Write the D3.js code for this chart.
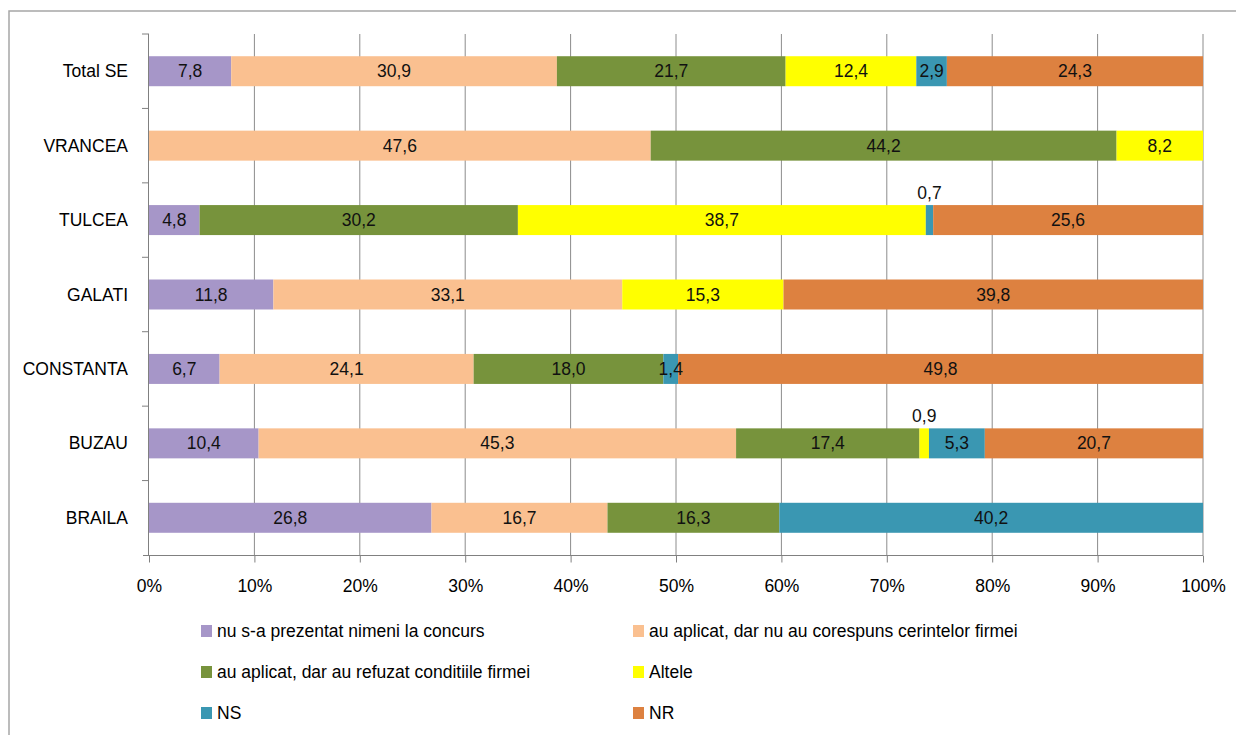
<!DOCTYPE html>
<html><head><meta charset="utf-8">
<script src="https://cdn.jsdelivr.net/npm/d3@7"></script>
<style>
body{margin:0;background:#fff;}
svg{display:block;font-family:"Liberation Sans",Arial,sans-serif;}
</style></head><body>
<svg id="c" width="1236" height="735"></svg>
<script>
const categories = ["Total SE","VRANCEA","TULCEA","GALATI","CONSTANTA","BUZAU","BRAILA"];
const seriesNames = ["nu s-a prezentat nimeni la concurs","au aplicat, dar nu au corespuns cerintelor firmei","au aplicat, dar au refuzat conditiile firmei","Altele","NS","NR"];
const seriesColors = ["#A696C8","#FAC090","#77933C","#FFFF00","#3A97B2","#DD8140"];
const nuPrezentat = [7.8, 0, 4.8, 11.8, 6.7, 10.4, 26.8];
const nuCorespuns = [30.9, 47.6, 0, 33.1, 24.1, 45.3, 16.7];
const refuzat     = [21.7, 44.2, 30.2, 0, 18.0, 17.4, 16.3];
const altele      = [12.4, 8.2, 38.7, 15.3, 0, 0.9, 0];
const ns          = [2.9, 0, 0.7, 0, 1.4, 5.3, 40.2];
const nr          = [24.3, 0, 25.6, 39.8, 49.8, 20.7, 0];
const xTicks = [0,10,20,30,40,50,60,70,80,90,100];
// labels shown above the bar for thin segments
const aboveLabels = [{cat:"TULCEA", series:4},{cat:"BUZAU", series:3}];

const FS = 17.5;
const seriesValues = [nuPrezentat, nuCorespuns, refuzat, altele, ns, nr];
const rows = categories.map((c,i)=>{const o={cat:c}; seriesValues.forEach((s,k)=>o["s"+k]=s[i]); return o;});
const keys = seriesValues.map((_,k)=>"s"+k);
const stack = d3.stack().keys(keys)(rows);

const svg = d3.select("#c");
// outer frame
svg.append("rect").attr("x",9).attr("y",11).attr("width",1240).attr("height",740)
  .attr("fill","none").attr("stroke","#a6a6a6").attr("stroke-width",1.5);

const x = d3.scaleLinear().domain([0,100]).range([149,1203]);
const y = d3.scaleBand().domain(categories).range([34,555]).paddingInner(0.597).paddingOuter(0.2985);

// gridlines
svg.append("g").selectAll("line").data(xTicks.slice(1)).join("line")
  .attr("x1",d=>x(d)).attr("x2",d=>x(d)).attr("y1",34).attr("y2",555)
  .attr("stroke","#8c8c8c").attr("stroke-width",1);

// bars
const g = svg.append("g");
stack.forEach((layer,k)=>{
  g.append("g").selectAll("rect").data(layer).join("rect")
    .attr("x",d=>x(d[0])).attr("width",d=>x(d[1])-x(d[0]))
    .attr("y",d=>y(d.data.cat)).attr("height",y.bandwidth())
    .attr("fill",seriesColors[k]);
});
// labels
stack.forEach((layer,k)=>{
  layer.forEach(d=>{
    const v = d[1]-d[0];
    if(v<=0) return;
    const above = aboveLabels.some(a=>a.cat===d.data.cat && a.series===k);
    const cx = (x(d[0])+x(d[1]))/2;
    const cy = y(d.data.cat)+y.bandwidth()/2;
    svg.append("text").attr("x",cx).attr("y",above? y(d.data.cat)-6 : cy+6)
      .attr("text-anchor","middle").attr("font-size",FS).attr("fill","#111")
      .text(d3.format(".1f")(v).replace(".",","));
  });
});

// y axis
const ya = svg.append("g");
ya.append("line").attr("x1",148.5).attr("x2",148.5).attr("y1",34).attr("y2",555).attr("stroke","#808080");
const bounds = categories.map((c,i)=>34 + i*y.step());
ya.selectAll(".yt").data(bounds).join("line").attr("x1",142).attr("x2",149)
  .attr("y1",d=>d).attr("y2",d=>d).attr("stroke","#808080");
ya.selectAll(".yl").data(categories).join("text")
  .attr("x",128).attr("y",d=>y(d)+y.bandwidth()/2+6).attr("text-anchor","end")
  .attr("font-size",FS).attr("fill","#000").text(d=>d);

// x axis
const xa = svg.append("g").attr("transform","translate(0,555.5)")
  .call(d3.axisBottom(x).tickValues(xTicks).tickSize(7).tickSizeOuter(0).tickFormat(d=>d+"%"));
xa.select(".domain").attr("stroke","#808080").attr("d","M143,0H1203");
xa.selectAll(".tick line").attr("stroke","#808080");
xa.selectAll(".tick text").attr("font-size",FS).attr("font-family","inherit").attr("fill","#000").attr("dy",0).attr("y",36);

// legend
const legPos = [[201,631],[633,631],[201,672],[633,672],[201,713],[633,713]];
const leg = svg.append("g");
seriesNames.forEach((n,k)=>{
  const [lx,ly]=legPos[k];
  leg.append("rect").attr("x",lx).attr("y",ly-6).attr("width",11).attr("height",12).attr("fill",seriesColors[k]);
  leg.append("text").attr("x",lx+16).attr("y",ly+6).attr("font-size",FS).attr("fill","#000").text(n);
});
</script></body></html>
